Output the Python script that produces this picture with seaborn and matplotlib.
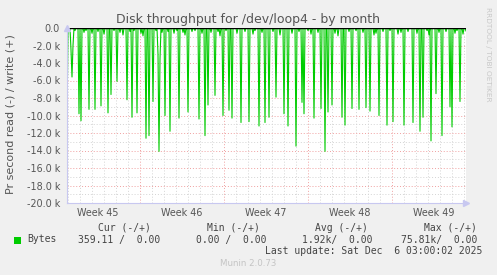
import numpy as np
import pandas as pd
import matplotlib
matplotlib.use("Agg")
import matplotlib.pyplot as plt
import matplotlib.transforms as mtrans
import seaborn as sns

# ---------------- data ----------------
n_bins = 400            # 2-hour bins covering the month view
bin_hours = 2
spike_bins = [0, 5, 12, 14, 22, 28, 34, 41, 44, 50, 60, 65, 70, 79, 82, 86, 92, 98, 103, 112,
              121, 132, 138, 141, 148, 156, 162, 165, 174, 182, 192, 198, 202, 209, 217, 221,
              229, 235, 237, 247, 254, 258, 261, 265, 275, 278, 285, 292, 299, 303, 312, 320,
              326, 337, 346, 353, 356, 364, 369, 375, 383, 385, 393]
spike_kbytes = [10.8, 5.6, 9.8, 10.6, 9.3, 9.3, 8.9, 9.7, 7.6, 6.1, 8.2, 10.2, 9.7, 12.6, 12.3,
                8.4, 14.1, 10.0, 11.8, 10.3, 9.6, 10.4, 12.3, 8.8, 7.7, 10.0, 9.4, 10.3, 10.8,
                10.7, 11.2, 10.8, 10.2, 7.9, 9.8, 11.2, 13.5, 8.5, 9.8, 10.3, 9.2, 14.1, 9.6,
                8.8, 10.2, 11.1, 9.2, 9.3, 9.1, 9.5, 10.0, 11.1, 10.7, 11.1, 10.8, 11.8, 10.2,
                12.9, 7.5, 12.3, 9.0, 11.3, 8.4]
minor_bins = [2, 4, 6, 8, 17, 19, 25, 31, 37, 47, 53, 56, 63, 67, 74, 76, 89, 91, 93, 95, 101,
              107, 110, 116, 118, 125, 128, 135, 144, 151, 153, 159, 170, 178, 186, 188, 195,
              206, 213, 225, 232, 241, 244, 251, 268, 271, 282, 289, 296, 307, 309, 316, 323,
              331, 334, 341, 350, 360, 362, 372, 379, 388, 390, 396, 399]
minor_kbytes = [0.4, 2.5, 2.0, 0.3, 0.5, 0.3, 0.6, 0.4, 0.7, 0.3, 0.5, 0.8, 0.4, 0.3, 0.6, 0.9,
                0.3, 3.0, 3.5, 0.5, 0.4, 0.6, 0.3, 0.5, 0.8, 0.4, 0.3, 0.6, 0.5, 0.4, 0.9, 0.3,
                0.6, 0.4, 0.7, 0.3, 0.5, 0.4, 0.8, 0.6, 0.4, 0.3, 0.7, 0.5, 0.6, 0.9, 0.4, 0.3,
                0.5, 0.8, 0.6, 0.4, 0.3, 0.7, 0.5, 0.4, 0.6, 0.3, 0.8, 0.5, 0.4, 0.6, 0.3, 0.7,
                0.36]

week_labels = ["Week 45", "Week 46", "Week 47", "Week 48", "Week 49"]
y_ticks = [0, -2000, -4000, -6000, -8000, -10000, -12000, -14000, -16000, -18000, -20000]
y_tick_labels = ["0.0", "-2.0 k", "-4.0 k", "-6.0 k", "-8.0 k", "-10.0 k", "-12.0 k",
                 "-14.0 k", "-16.0 k", "-18.0 k", "-20.0 k"]
first_week_start_h = 146      # hour of first week boundary from start of view
legend_name = "Bytes"
cur_txt, min_txt, avg_txt, max_txt = "359.11 /  0.00", "0.00 /  0.00", "1.92k/  0.00", "75.81k/  0.00"

# ---------------- build series ----------------
read = np.zeros(n_bins)
read[minor_bins] = np.array(minor_kbytes) * 1000
read[spike_bins] = np.array(spike_kbytes) * 1000
hours = np.arange(n_bins) * bin_hours
df = pd.DataFrame({"hours": hours, "read": -read, "write": np.zeros(n_bins)})

week_bounds = [first_week_start_h + 168 * k for k in range(4)]
week_centers = [first_week_start_h - 84 + 168 * k for k in range(5)]
day_lines = list(range(first_week_start_h % 24, n_bins * bin_hours, 24))

# ---------------- figure ----------------
sns.set_theme(style="white")
plt.rcParams["font.family"] = ["DejaVu Sans"]
W, H = 497, 275
fig = plt.figure(figsize=(W / 100, H / 100), dpi=100, facecolor="#f0f0f0")
ax = fig.add_axes([67 / W, 72 / H, 399 / W, 175 / H])
ax.set_facecolor("white")

txt = "#555555"
ax.set_xlim(0, 798)
ax.set_ylim(-20000, 0)

ax.set_xticks(week_bounds)
ax.set_xticks(day_lines, minor=True)
ax.set_xticklabels([])
ax.set_yticks(y_ticks)
ax.set_yticks(np.arange(-19000, 0, 2000), minor=True)
ax.set_yticklabels(y_tick_labels, fontsize=6.9, color=txt)
ax.tick_params(axis="x", which="major", length=3, color="#f08080", width=0.8)
ax.tick_params(axis="x", which="minor", length=0)
ax.tick_params(axis="y", which="major", length=2, color="#f08080", width=0.8, pad=3)
ax.tick_params(axis="y", which="minor", length=0)

ax.grid(which="minor", color="#d4d4d4", linestyle=(0, (1, 2)), linewidth=0.7)
ax.grid(which="major", color="#f0a0a0", linestyle=(0, (1, 2)), linewidth=0.7)
ax.set_axisbelow(True)

for s in ["top", "right"]:
    ax.spines[s].set_visible(False)
for s in ["left", "bottom"]:
    ax.spines[s].set_color("#c8c8f0")
    ax.spines[s].set_linewidth(0.8)

sns.lineplot(data=df, x="hours", y="read", ax=ax, color="#00cc00", linewidth=0.8, legend=False)
sns.lineplot(data=df, x="hours", y="write", ax=ax, color="#00cc00", linewidth=0.8, legend=False)
ax.axhline(0, color="black", linewidth=1.0, zorder=5)

# axis arrows
ax.plot([0], [1.0], transform=ax.transAxes, marker="^", markersize=4, color="#c8c8f0",
        clip_on=False, zorder=6)
ax.plot([1.0], [0], transform=ax.transAxes, marker=">", markersize=4, color="#c8c8f0",
        clip_on=False, zorder=6)
ax.set_xlabel("")
ax.set_ylabel("")

lab_tr = mtrans.blended_transform_factory(ax.transData, fig.transFigure)
for xc, lab in zip(week_centers, week_labels):
    ax.text(xc, 1 - 212.5 / H, lab, transform=lab_tr,
            ha="center", va="center", fontsize=6.9, color=txt)

fig.text(248 / W, 1 - 19 / H, "Disk throughput for /dev/loop4 - by month",
         ha="center", va="center", fontsize=9.0, color=txt)
fig.text(10.5 / W, 1 - 114 / H, "Pr second read (-) / write (+)", rotation=90,
         ha="center", va="center", fontsize=8.0, color=txt)
fig.text(488 / W, 1 - 54 / H, "RRDTOOL / TOBI OETIKER", rotation=270,
         ha="center", va="center", fontsize=5.3, color="#c8c8c8")

mono = dict(family="DejaVu Sans Mono", fontsize=7.0, color="#444444", va="center")
fig.patches.append(plt.Rectangle((14 / W, 1 - 244 / H), 7 / W, 7 / H, transform=fig.transFigure,
                                 facecolor="#00cc00", edgecolor="none"))
fig.text(27 / W, 1 - 239.5 / H, legend_name, ha="left", **mono)
fig.text(151 / W, 1 - 227.7 / H, "Cur (-/+)", ha="right", **mono)
fig.text(260 / W, 1 - 227.7 / H, "Min (-/+)", ha="right", **mono)
fig.text(368 / W, 1 - 227.7 / H, "Avg (-/+)", ha="right", **mono)
fig.text(477 / W, 1 - 227.7 / H, "Max (-/+)", ha="right", **mono)
fig.text(160 / W, 1 - 239.5 / H, cur_txt, ha="right", **mono)
fig.text(267 / W, 1 - 239.5 / H, min_txt, ha="right", **mono)
fig.text(372 / W, 1 - 239.5 / H, avg_txt, ha="right", **mono)
fig.text(477 / W, 1 - 239.5 / H, max_txt, ha="right", **mono)
fig.text(482 / W, 1 - 251 / H, "Last update: Sat Dec  6 03:00:02 2025", ha="right", **mono)
fig.text(248 / W, 1 - 264 / H, "Munin 2.0.73", ha="center", va="center",
         fontsize=6.2, color="#c4c4c4")

fig.savefig("out.png", dpi=100, facecolor=fig.get_facecolor())
